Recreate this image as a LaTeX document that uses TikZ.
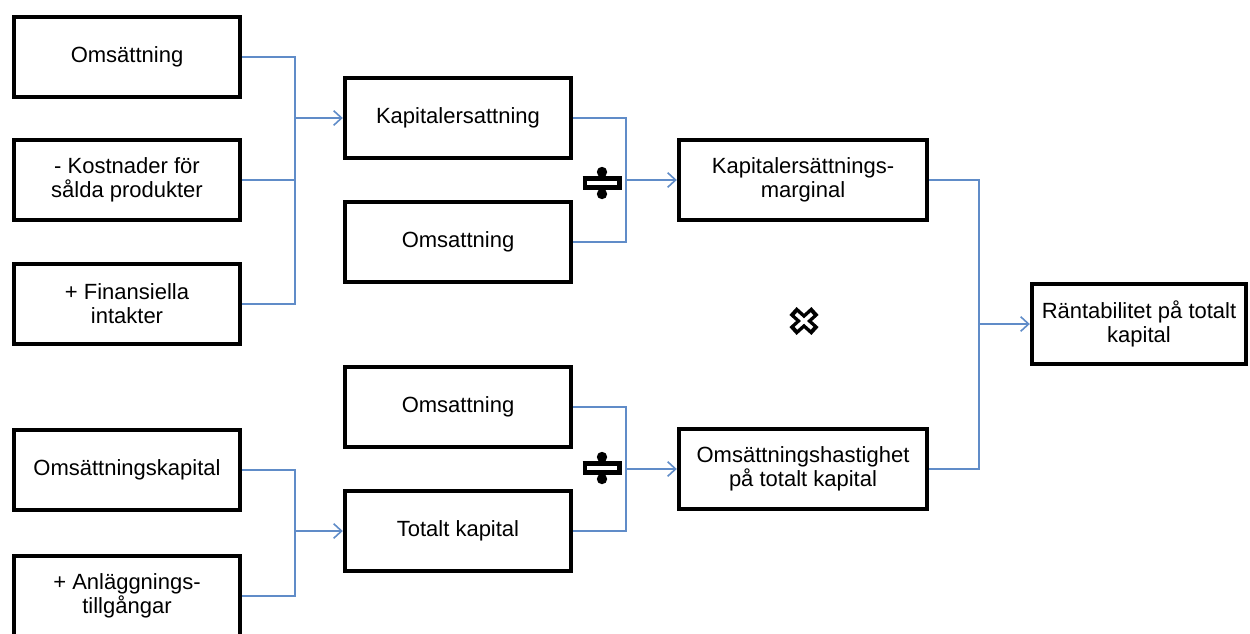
\documentclass[tikz,border=0pt]{standalone}
\usepackage{fontspec}
\setmainfont{Liberation Sans}
\usetikzlibrary{arrows.meta}
\definecolor{linkblue}{RGB}{96,140,200}
\begin{document}
\begin{tikzpicture}[x=0.75pt,y=-0.75pt,
  box/.style={draw=black,line width=2.8pt,fill=white,align=center,
    font=\fontsize{16.5}{18}\selectfont,minimum height=60.5pt,inner sep=2pt},
  colA/.style={box,minimum width=170pt},
  colC/.style={box,minimum width=186.5pt},
  colD/.style={box,minimum width=161pt},
  link/.style={draw=linkblue,line width=1.6pt},
  feed/.style={link,-{Straight Barb[length=6pt,width=11pt,line width=1.2pt]}},
  divop/.pic={
    \fill[black] (0,-11) circle (3.9pt);
    \fill[black] (0,11) circle (3.9pt);
    \draw[black,line width=10.5pt] (-19.5,0) -- (19.5,0);
    \draw[white,line width=3.6pt] (-15,0) -- (15,0);
  },
  mulop/.pic={
    \draw[black,line width=8pt] (-11,-10) -- (11,10);
    \draw[black,line width=8pt] (-11,10) -- (11,-10);
    \draw[white,line width=2.8pt] (-8,-7.2) -- (8,7.2);
    \draw[white,line width=2.8pt] (-8,7.2) -- (8,-7.2);
  }
]
\useasboundingbox (0,0) rectangle (1250,633);
\clip (0,0) rectangle (1250,633);

% inputs
\node[colA] (a1) at (127,57)  {Omsättning};
\node[colA] (a2) at (127,180) {- Kostnader för\\sålda produkter};
\node[colA] (a3) at (127,304) {+ Finansiella\\intakter};
\node[colA] (a4) at (127,470) {Omsättningskapital};
\node[colA] (a5) at (127,596) {+ Anläggnings-\\tillgångar};

% intermediate terms
\node[colA] (b1) at (458,118) {Kapitalersattning};
\node[colA] (b2) at (458,242) {Omsattning};
\node[colA] (b3) at (458,407) {Omsattning};
\node[colA] (b4) at (458,531) {Totalt kapital};

% ratios
\node[colC] (c1) at (803,180) {Kapitalersättnings-\\marginal};
\node[colC] (c2) at (803,469) {Omsättningshastighet\\på totalt kapital};

% result
\node[colD] (d) at (1139,324) {Räntabilitet på totalt\\kapital};

% junction points
\coordinate (jA) at (295,118);
\coordinate (jB) at (295,531);
\coordinate (jC) at (626,180);
\coordinate (jD) at (626,469);
\coordinate (jE) at (979,324);

% connectors
\draw[link] (a1.east) -| (jA);
\draw[link] (a3.east) -| (jA);
\draw[link] (a2.east) -- (a2.east -| jA);
\draw[feed] (jA) -- (b1.west);

\draw[link] (a4.east) -| (jB);
\draw[link] (a5.east) -| (jB);
\draw[feed] (jB) -- (b4.west);

\draw[link] (b1.east) -| (jC);
\draw[link] (b2.east) -| (jC);
\draw[feed] (jC) -- (c1.west);

\draw[link] (b3.east) -| (jD);
\draw[link] (b4.east) -| (jD);
\draw[feed] (jD) -- (c2.west);

\draw[link] (c1.east) -| (jE);
\draw[link] (c2.east) -| (jE);
\draw[feed] (jE) -- (d.west);

% operators
\pic at (602,183) {divop};
\pic at (602,468) {divop};
\pic at (804,321) {mulop};
\end{tikzpicture}
\end{document}
